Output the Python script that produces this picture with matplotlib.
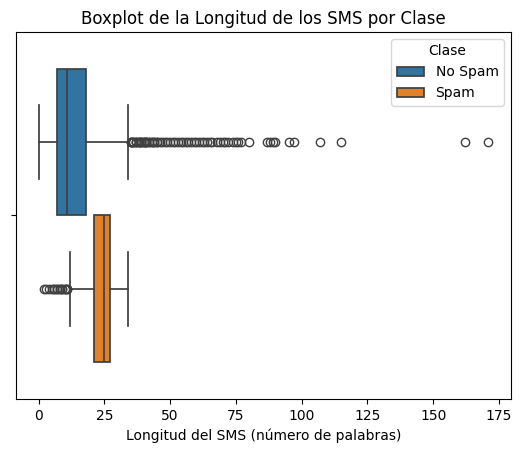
import matplotlib
matplotlib.use("Agg")
import matplotlib.pyplot as plt
from matplotlib.patches import Patch

# Box statistics (words per SMS)
clases = ["No Spam", "Spam"]
q1 = [7, 21]
mediana = [11, 25]
q3 = [18, 27]
bigote_bajo = [0, 12]
bigote_alto = [34, 34]

# many messages share the same length near the whisker, hence repeats
outliers_no_spam = (list(range(35, 64)) + list(range(35, 46)) + list(range(35, 42))
                    + [64, 65, 66, 68, 69, 70, 71, 72, 74, 75, 76, 77, 80,
                       87, 88, 89, 90, 95, 97, 107, 115, 162, 171])
outliers_spam = [2, 3, 4, 5, 6, 7, 8, 9, 10, 11, 6, 7, 8, 9, 10, 11]

colores = ["#3274a1", "#e1812c"]
gris = "#3f3f3f"

stats = []
for i, nombre in enumerate(clases):
    stats.append({
        "label": nombre,
        "q1": q1[i],
        "med": mediana[i],
        "q3": q3[i],
        "whislo": bigote_bajo[i],
        "whishi": bigote_alto[i],
        "fliers": [outliers_no_spam, outliers_spam][i],
    })

fig = plt.figure(figsize=(5.22, 4.53), dpi=100)
ax = fig.add_axes([16 / 522, 1 - 399 / 453, 495 / 522, 367 / 453])

bp = ax.bxp(stats, positions=[-0.2, 0.2], widths=0.4, orientation="horizontal",
            patch_artist=True, manage_ticks=False,
            boxprops=dict(edgecolor=gris, linewidth=1.25),
            medianprops=dict(color=gris, linewidth=1.25),
            whiskerprops=dict(color=gris, linewidth=1.25),
            capprops=dict(color=gris, linewidth=1.25),
            flierprops=dict(marker="o", markerfacecolor="none",
                            markeredgecolor=gris, markersize=6, linewidth=0))
for caja, c in zip(bp["boxes"], colores):
    caja.set_facecolor(c)

ax.set_ylim(0.5, -0.5)
ax.set_yticks([0])
ax.set_yticklabels([""])
ax.set_xticks([0, 25, 50, 75, 100, 125, 150, 175])
ax.set_xlabel("Longitud del SMS (número de palabras)")
ax.set_title("Boxplot de la Longitud de los SMS por Clase")

handles = [Patch(facecolor=c, edgecolor=gris, linewidth=1.25, label=n)
           for c, n in zip(colores, clases)]
ax.legend(handles=handles, title="Clase", loc="upper right")

fig.savefig("out.png", dpi=100)
